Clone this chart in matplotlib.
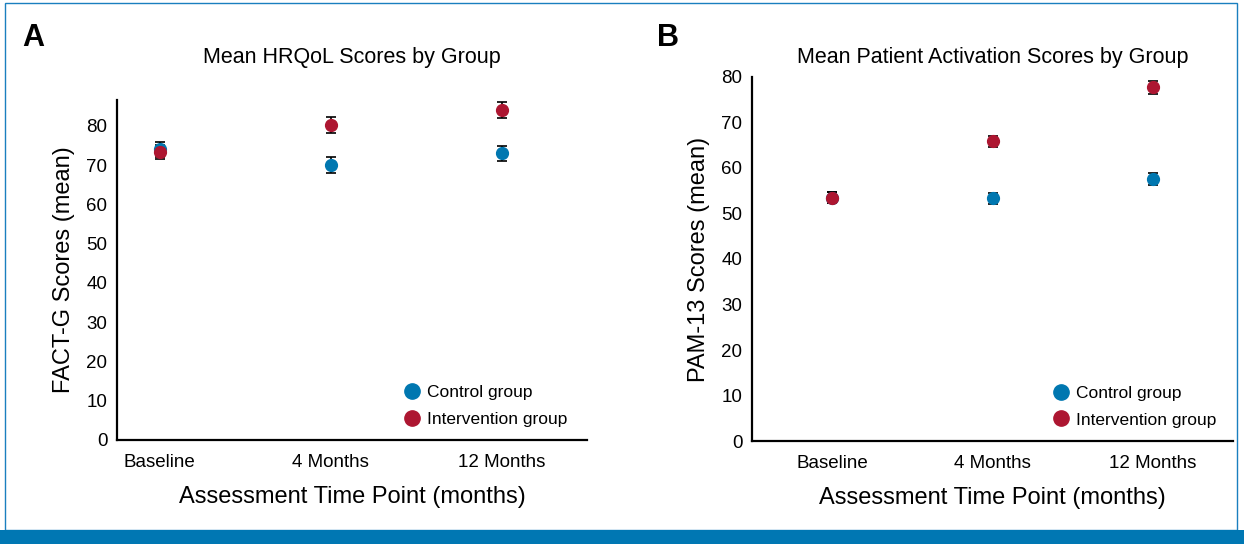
import matplotlib.pyplot as plt
from matplotlib.patches import Rectangle
from matplotlib.lines import Line2D

# data
time_points = ['Baseline', '4 Months', '12 Months']

hrqol_control = [74.0, 70.0, 73.0]
hrqol_control_err = [1.8, 2.0, 2.0]
hrqol_interv = [73.3, 80.3, 84.0]
hrqol_interv_err = [1.8, 2.0, 2.0]

pam_control = [53.5, 53.3, 57.6]
pam_control_err = [1.3, 1.3, 1.3]
pam_interv = [53.5, 65.9, 77.7]
pam_interv_err = [1.3, 1.2, 1.5]

BLUE = '#0077b0'
RED = '#ad1631'
FRAME = '#1a7fbf'

plt.rcParams['font.family'] = ['Liberation Sans', 'DejaVu Sans']

fig = plt.figure(figsize=(12.44, 5.44), dpi=100)

# frame around the figure and the blue band at the bottom
fig.patches.append(Rectangle((0.004, 0.025), 0.9905, 0.97, transform=fig.transFigure,
                             fill=False, edgecolor=FRAME, lw=1.0))
fig.patches.append(Rectangle((0, 0), 1, 0.026, transform=fig.transFigure,
                             facecolor='#0077b3', edgecolor='none'))


def panel(rect, ctrl, ctrl_err, intv, intv_err, title, ylabel, ylim, yticks, xlim, leg_anchor):
    ax = fig.add_axes(rect)
    x = list(range(len(time_points)))
    ax.errorbar(x, ctrl, yerr=ctrl_err, fmt='o', color=BLUE, ms=8.5, mec=BLUE,
                ecolor='black', elinewidth=1.2, capsize=3.5, capthick=1.2, zorder=3)
    ax.errorbar(x, intv, yerr=intv_err, fmt='o', color=RED, ms=8.5, mec=RED,
                ecolor='black', elinewidth=1.2, capsize=3.5, capthick=1.2, zorder=3)
    ax.set_xlim(*xlim)
    ax.set_ylim(*ylim)
    ax.set_yticks(yticks)
    ax.set_xticks(x)
    ax.set_xticklabels(time_points)
    ax.tick_params(length=0, labelsize=13.5)
    ax.tick_params(axis='x', pad=10)
    ax.tick_params(axis='y', pad=7)
    for s in ['top', 'right']:
        ax.spines[s].set_visible(False)
    for s in ['left', 'bottom']:
        ax.spines[s].set_linewidth(1.6)
    # title placed at a fixed figure height, centred over the axes
    cx = rect[0] + rect[2] / 2
    fig.text(cx, 0.895, title, fontsize=15.5, ha='center', va='center')
    ax.set_ylabel(ylabel, fontsize=17, labelpad=8)
    ax.set_xlabel('Assessment Time Point (months)', fontsize=17, labelpad=11)
    handles = [Line2D([], [], ls='none', marker='o', ms=11, color=BLUE),
               Line2D([], [], ls='none', marker='o', ms=11, color=RED)]
    ax.legend(handles, ['Control group', 'Intervention group'], loc='lower left',
              bbox_to_anchor=leg_anchor, frameon=False, fontsize=12.5,
              handlelength=1.0, handletextpad=0.35, labelspacing=0.65, borderaxespad=0)
    return ax


panel([0.0941, 0.1912, 0.3778, 0.625], hrqol_control, hrqol_control_err,
      hrqol_interv, hrqol_interv_err, 'Mean HRQoL Scores by Group',
      'FACT-G Scores (mean)', (0, 86.6), range(0, 81, 10), (-0.25, 2.5), (0.595, 0.018))
panel([0.6045, 0.1893, 0.3867, 0.6692], pam_control, pam_control_err,
      pam_interv, pam_interv_err, 'Mean Patient Activation Scores by Group',
      'PAM-13 Scores (mean)', (0, 80), range(0, 81, 10), (-0.5, 2.5), (0.61, 0.018))

fig.text(0.018, 0.915, 'A', fontsize=22, fontweight='bold')
fig.text(0.528, 0.915, 'B', fontsize=22, fontweight='bold')

fig.savefig('out.png', dpi=100)
